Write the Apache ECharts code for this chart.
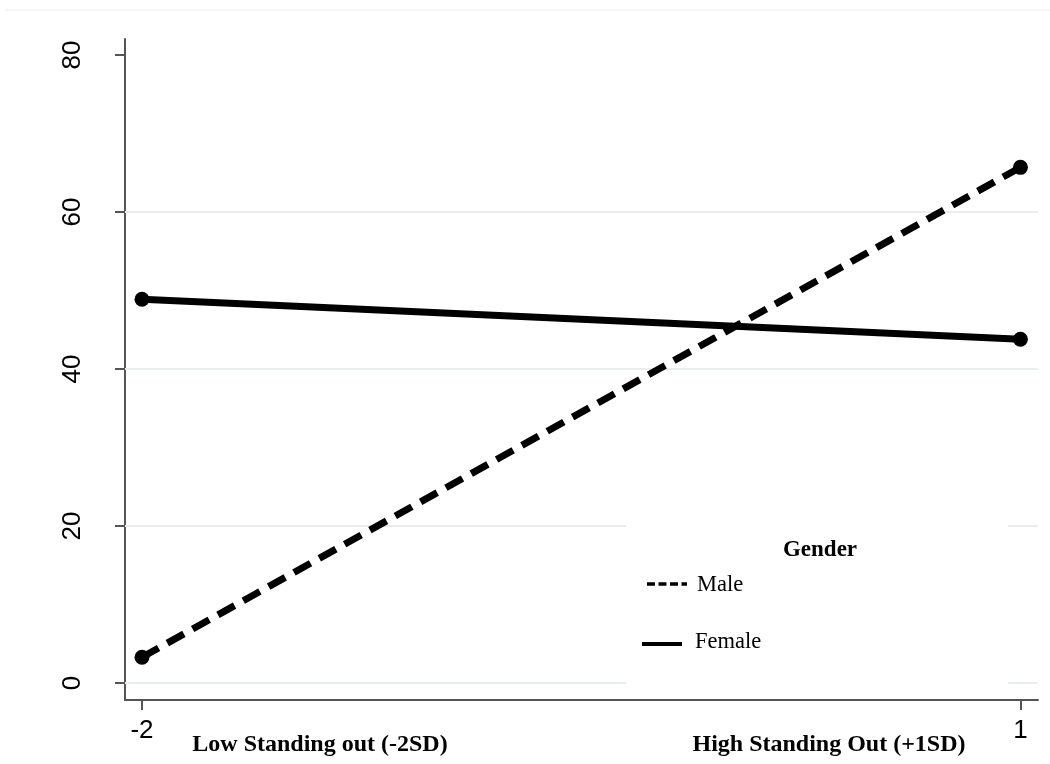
<!DOCTYPE html>
<html>
<head>
<meta charset="utf-8">
<script src="https://cdn.jsdelivr.net/npm/echarts@6/dist/echarts.min.js"></script>
<style>
html,body{margin:0;padding:0;background:#fff;}
#chart{width:1050px;height:764px;}
</style>
</head>
<body>
<div id="chart"></div>
<script>
// ---- data ----
const xValues = [-2, 1];
const seriesNames = ['Male', 'Female'];
const maleValues = [3.3, 65.7];
const femaleValues = [48.9, 43.8];
const yTickValues = [0, 20, 40, 60, 80];
const yGridValues = [0, 20, 40, 60];
const xTickValues = [-2, 1];
const xTitleLeft = 'Low Standing out (-2SD)';
const xTitleRight = 'High Standing Out (+1SD)';
const legendTitle = 'Gender';

function pairs(vals) { return xValues.map((x, i) => [x, vals[i]]); }

const chart = echarts.init(document.getElementById('chart'), null, {renderer: 'canvas'});

const axisColor = '#555555';
const gridColor = '#e6eef0';

const option = {
  backgroundColor: '#ffffff',
  animation: false,
  grid: {left: 125, right: 12, top: 39, bottom: 64, containLabel: false},
  xAxis: {
    type: 'value',
    min: -2.058,
    max: 1.06,
    splitLine: {show: false},
    axisLine: {show: true, onZero: false, lineStyle: {color: axisColor, width: 2}},
    axisTick: {show: true, customValues: xTickValues, length: 10, lineStyle: {color: axisColor, width: 2}},
    axisLabel: {
      customValues: xTickValues,
      margin: 18,
      fontFamily: 'Liberation Sans',
      fontSize: 26,
      color: '#000'
    }
  },
  yAxis: {
    type: 'value',
    min: -2.15,
    max: 82.05,
    splitLine: {show: false},
    axisLine: {show: true, onZero: false, lineStyle: {color: axisColor, width: 2}},
    axisTick: {show: true, customValues: yTickValues, length: 10, lineStyle: {color: axisColor, width: 2}},
    axisLabel: {
      customValues: yTickValues,
      rotate: 90,
      margin: 39,
      fontFamily: 'Liberation Sans',
      fontSize: 26,
      color: '#000'
    }
  },
  series: [
    {
      name: 'grid',
      type: 'line',
      data: [],
      silent: true,
      z: 1,
      markLine: {
        silent: true,
        symbol: ['none', 'none'],
        label: {show: false},
        lineStyle: {color: gridColor, width: 2, type: 'solid'},
        data: yGridValues.map(v => ({yAxis: v}))
      }
    },
    {
      name: seriesNames[0],
      type: 'line',
      data: pairs(maleValues),
      z: 5,
      symbol: 'circle',
      symbolSize: 15,
      itemStyle: {color: '#000'},
      lineStyle: {color: '#000', width: 7, type: [19, 10], cap: 'butt'}
    },
    {
      name: seriesNames[1],
      type: 'line',
      data: pairs(femaleValues),
      z: 5,
      symbol: 'circle',
      symbolSize: 15,
      itemStyle: {color: '#000'},
      lineStyle: {color: '#000', width: 7, type: 'solid'}
    }
  ],
  graphic: [
    // faint outer border at top
    {type: 'line', z: 0, shape: {x1: 5, y1: 10, x2: 1050, y2: 10}, style: {stroke: '#f3f4f4', lineWidth: 1.5}},
    // legend box
    {type: 'rect', z: 50, shape: {x: 626, y: 512, width: 382, height: 178}, style: {fill: '#ffffff'}},
    {type: 'text', z: 51, style: {text: legendTitle, x: 820, y: 550, textAlign: 'center', textVerticalAlign: 'middle', font: 'bold 23px "Liberation Serif"', fill: '#000'}},
    {type: 'line', z: 51, shape: {x1: 647, y1: 584, x2: 687, y2: 584}, style: {stroke: '#000', lineWidth: 3.5, lineDash: [8, 3.5]}},
    {type: 'text', z: 51, style: {text: seriesNames[0], x: 697, y: 585, textAlign: 'left', textVerticalAlign: 'middle', font: '22.5px "Liberation Serif"', fill: '#000'}},
    {type: 'line', z: 51, shape: {x1: 642, y1: 644, x2: 682, y2: 644}, style: {stroke: '#000', lineWidth: 4}},
    {type: 'text', z: 51, style: {text: seriesNames[1], x: 695, y: 642, textAlign: 'left', textVerticalAlign: 'middle', font: '22.5px "Liberation Serif"', fill: '#000'}},
    // x axis titles
    {type: 'text', z: 51, style: {text: xTitleLeft, x: 320, y: 745, textAlign: 'center', textVerticalAlign: 'middle', font: 'bold 24px "Liberation Serif"', fill: '#000'}},
    {type: 'text', z: 51, style: {text: xTitleRight, x: 829, y: 745, textAlign: 'center', textVerticalAlign: 'middle', font: 'bold 24px "Liberation Serif"', fill: '#000'}}
  ]
};
chart.setOption(option);
</script>
</body>
</html>
